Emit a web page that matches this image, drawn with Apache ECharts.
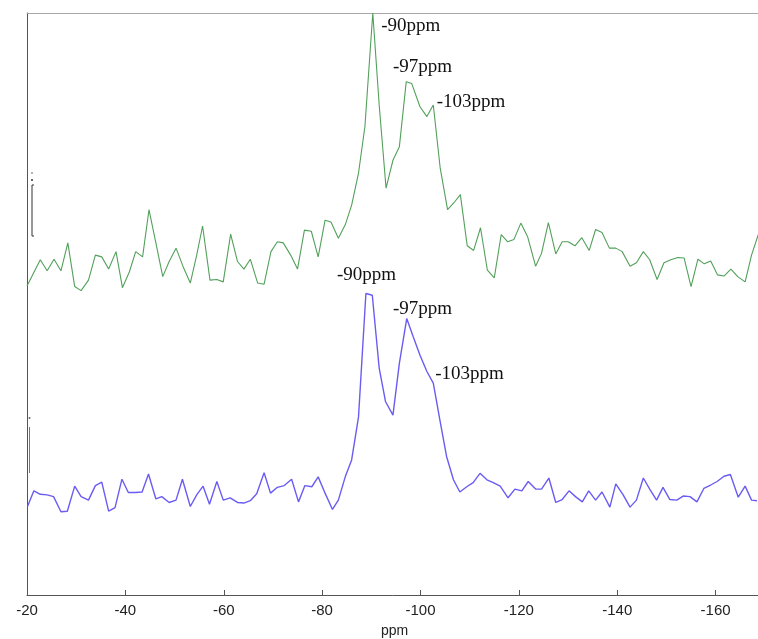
<!DOCTYPE html>
<html>
<head>
<meta charset="utf-8">
<script src="https://cdn.jsdelivr.net/npm/echarts@6/dist/echarts.min.js"></script>
<style>
  html, body { margin: 0; padding: 0; background: #fff; }
  #chart { width: 758px; height: 639px; }
</style>
</head>
<body>
<div id="chart"></div>
<script>
// x axis ticks (ppm, drawn right to left)
var ppmTicks = [-180, -160, -140, -120, -100, -80, -60, -40, -20];

// top spectrum [ppm, intensity]
var greenSpectrum = [
  [-20.0, 53.1], [-22.7, 57.6], [-24.1, 55.7], [-25.5, 57.7], [-26.9, 55.7], [-28.3, 60.5],
  [-29.7, 53.0], [-31.0, 52.3], [-32.5, 54.1], [-33.9, 58.4], [-35.2, 58.1], [-36.6, 56.0],
  [-38.1, 59.0], [-39.4, 52.8], [-40.8, 55.5], [-42.1, 59.0], [-43.5, 58.1], [-44.8, 66.2],
  [-46.2, 60.5], [-47.6, 54.7], [-48.9, 57.3], [-50.3, 59.6], [-51.7, 56.5], [-53.2, 53.6],
  [-54.5, 58.4], [-55.7, 63.4], [-57.2, 54.1], [-58.6, 54.2], [-59.9, 53.8], [-61.4, 62.0],
  [-62.8, 57.3], [-64.1, 56.0], [-65.4, 57.7], [-66.9, 53.6], [-68.2, 53.4], [-69.6, 59.0],
  [-70.9, 60.7], [-72.1, 60.5], [-73.6, 58.4], [-75.0, 56.0], [-76.4, 62.7], [-77.8, 62.5],
  [-79.2, 58.1], [-80.6, 64.4], [-81.8, 64.1], [-83.3, 61.3], [-84.7, 63.6], [-86.0, 67.0],
  [-87.4, 72.5], [-88.7, 80.5], [-90.3, 100], [-91.6, 84.2], [-93.0, 69.9], [-94.4, 74.7],
  [-95.7, 77.0], [-97.1, 88.2], [-98.2, 87.9], [-99.9, 83.9], [-101.3, 82.2], [-102.6, 84.2],
  [-104.0, 73.4], [-105.5, 66.2], [-106.8, 67.4], [-108.1, 68.8], [-109.5, 60.0], [-110.8, 59.2],
  [-112.2, 63.1], [-113.6, 55.8], [-115.0, 54.5], [-116.4, 61.9], [-117.7, 60.7], [-119.0, 61.1],
  [-120.4, 63.9], [-121.8, 61.5], [-123.4, 56.5], [-124.6, 58.7], [-126.0, 64.0], [-127.5, 58.6],
  [-128.8, 60.7], [-130.0, 60.7], [-131.4, 60.0], [-132.8, 61.4], [-134.3, 59.2], [-135.6, 62.8],
  [-136.9, 62.3], [-138.4, 59.6], [-139.7, 59.6], [-141.0, 59.0], [-142.6, 56.5], [-143.9, 57.1],
  [-145.3, 59.0], [-146.6, 57.6], [-148.1, 54.2], [-149.5, 57.1], [-150.9, 57.6], [-152.3, 58.0],
  [-153.6, 57.9], [-155.0, 53.0], [-156.4, 57.7], [-157.7, 56.9], [-159.0, 57.4], [-160.4, 55.0],
  [-161.7, 54.8], [-163.1, 56.0], [-164.5, 54.7], [-166.0, 53.8], [-167.3, 58.4], [-168.7, 62.0]
];

// bottom spectrum [ppm, intensity]
var blueSpectrum = [
  [-20.1, 15.2], [-21.4, 17.9], [-22.7, 17.3], [-24.1, 17.2], [-25.4, 16.9], [-26.9, 14.3],
  [-28.2, 14.4], [-29.7, 18.7], [-31.0, 16.9], [-32.5, 16.3], [-33.9, 18.8], [-35.2, 19.4],
  [-36.6, 14.4], [-37.9, 15.0], [-39.3, 19.9], [-40.6, 17.6], [-42.0, 17.6], [-43.4, 17.7],
  [-44.7, 20.8], [-46.2, 16.5], [-47.4, 16.9], [-48.9, 15.9], [-50.3, 16.3], [-51.6, 19.9],
  [-53.2, 15.2], [-54.5, 17.2], [-55.8, 18.7], [-57.1, 15.6], [-58.6, 19.5], [-59.9, 16.3],
  [-61.3, 16.7], [-62.8, 15.9], [-64.1, 15.8], [-65.4, 16.2], [-66.7, 17.4], [-68.2, 21.0],
  [-69.5, 17.5], [-70.9, 18.5], [-72.3, 18.8], [-73.8, 19.9], [-75.2, 16.0], [-76.5, 18.8],
  [-77.9, 18.6], [-79.2, 20.3], [-80.6, 17.5], [-82.1, 14.7], [-83.3, 16.3], [-84.7, 20.3],
  [-86.0, 23.2], [-87.4, 30.6], [-88.9, 51.8], [-90.2, 51.5], [-91.6, 39.0], [-92.9, 33.2],
  [-94.4, 30.9], [-95.7, 39.8], [-97.2, 47.5], [-98.5, 44.4], [-99.9, 41.2], [-101.3, 38.4],
  [-102.6, 36.4], [-104.0, 29.8], [-105.3, 23.8], [-106.7, 19.8], [-108.0, 17.7], [-109.4, 18.6],
  [-110.7, 19.3], [-112.1, 20.9], [-113.5, 19.8], [-114.8, 19.3], [-116.2, 18.7], [-117.8, 16.7],
  [-119.2, 18.2], [-120.6, 17.9], [-121.9, 19.5], [-123.4, 18.2], [-124.6, 18.2], [-126.1, 20.1],
  [-127.5, 15.9], [-128.8, 16.4], [-130.2, 17.9], [-131.5, 16.9], [-132.9, 16.0], [-134.2, 17.9],
  [-135.6, 16.3], [-136.9, 17.7], [-138.5, 15.1], [-139.7, 19.1], [-141.2, 17.2], [-142.6, 15.1],
  [-143.9, 16.3], [-145.3, 20.1], [-146.6, 18.2], [-148.0, 16.3], [-149.3, 18.5], [-150.7, 16.4],
  [-152.1, 16.3], [-153.4, 17.0], [-154.8, 16.9], [-156.2, 16.0], [-157.6, 18.3], [-159.0, 18.9],
  [-160.3, 19.5], [-161.7, 20.4], [-163.0, 20.7], [-164.6, 16.8], [-166.0, 18.7], [-167.3, 16.3],
  [-168.4, 16.2]
];

// peak labels [ppm, intensity, text]
var greenLabels = [[-92.0, 97.8, '-90ppm'], [-94.4, 90.7, '-97ppm'], [-103.3, 84.7, '-103ppm']];
var blueLabels = [[-83.0, 55.0, '-90ppm'], [-94.4, 49.1, '-97ppm'], [-103.0, 38.0, '-103ppm']];

var chart = echarts.init(document.getElementById('chart'));

function peakMarks(list) {
  return {
    symbol: 'circle',
    symbolSize: 0,
    silent: true,
    label: {
      show: true,
      position: 'right',
      distance: 0,
      color: '#111',
      fontSize: 19,
      fontFamily: '"Liberation Serif", "Times New Roman", serif',
      formatter: function (p) { return p.name; }
    },
    data: list.map(function (l) { return { name: l[2], coord: [l[0], l[1]] }; })
  };
}

var ppmMin = ppmTicks[0], ppmMax = ppmTicks[ppmTicks.length - 1];

var option = {
  animation: false,
  backgroundColor: '#fff',
  // the plot runs past the right edge, like the cropped original
  grid: { left: 27, top: 13, right: -56, bottom: 44, containLabel: false, outerBoundsMode: 'none' },
  xAxis: [{
    type: 'value',
    min: ppmMin,
    max: ppmMax,
    interval: 20,
    inverse: true,
    name: 'ppm',
    nameLocation: 'middle',
    nameGap: 29,
    // pull the name back to the middle of the visible part
    nameTextStyle: { color: '#222', fontSize: 14, padding: [0, 52, 0, 0], fontFamily: '"Liberation Sans", Arial, sans-serif' },
    axisLine: { onZero: false, lineStyle: { color: '#555', width: 1 } },
    axisTick: { inside: true, length: 5, lineStyle: { color: '#555' } },
    axisLabel: { color: '#222', fontSize: 15, margin: 8, fontFamily: '"Liberation Sans", Arial, sans-serif' },
    splitLine: { show: false }
  }, {
    // top frame line
    type: 'value',
    position: 'top',
    min: ppmMin,
    max: ppmMax,
    inverse: true,
    axisLine: { show: true, onZero: false, lineStyle: { color: '#a8a8a8', width: 1 } },
    axisTick: { show: false },
    axisLabel: { show: false },
    splitLine: { show: false }
  }],
  yAxis: {
    type: 'value',
    min: 0,
    max: 100,
    axisLine: { show: true, onZero: false, lineStyle: { color: '#555', width: 1 } },
    axisTick: { show: false },
    axisLabel: { show: false },
    splitLine: { show: false }
  },
  graphic: [
    // little scale marks at the left edge
    { type: 'line', shape: { x1: 32, y1: 185, x2: 32, y2: 236 }, style: { stroke: '#333', lineWidth: 1 } },
    { type: 'line', shape: { x1: 32, y1: 185, x2: 34, y2: 185 }, style: { stroke: '#333', lineWidth: 1 } },
    { type: 'line', shape: { x1: 32, y1: 236, x2: 34, y2: 236 }, style: { stroke: '#333', lineWidth: 1 } },
    { type: 'circle', shape: { cx: 32, cy: 173, r: 0.8 }, style: { fill: '#555' } },
    { type: 'circle', shape: { cx: 32, cy: 180, r: 1 }, style: { fill: '#333' } },
    { type: 'line', shape: { x1: 29.5, y1: 427, x2: 29.5, y2: 473 }, style: { stroke: '#777', lineWidth: 1 } },
    { type: 'circle', shape: { cx: 29.5, cy: 418, r: 1 }, style: { fill: '#666' } }
  ],
  series: [{
    name: 'top',
    type: 'line',
    data: greenSpectrum,
    showSymbol: false,
    symbol: 'none',
    lineStyle: { color: '#52a05a', width: 1.1 },
    markPoint: peakMarks(greenLabels)
  }, {
    name: 'bottom',
    type: 'line',
    data: blueSpectrum,
    showSymbol: false,
    symbol: 'none',
    lineStyle: { color: '#6a5cf2', width: 1.4 },
    markPoint: peakMarks(blueLabels)
  }]
};

chart.setOption(option);
</script>
</body>
</html>
